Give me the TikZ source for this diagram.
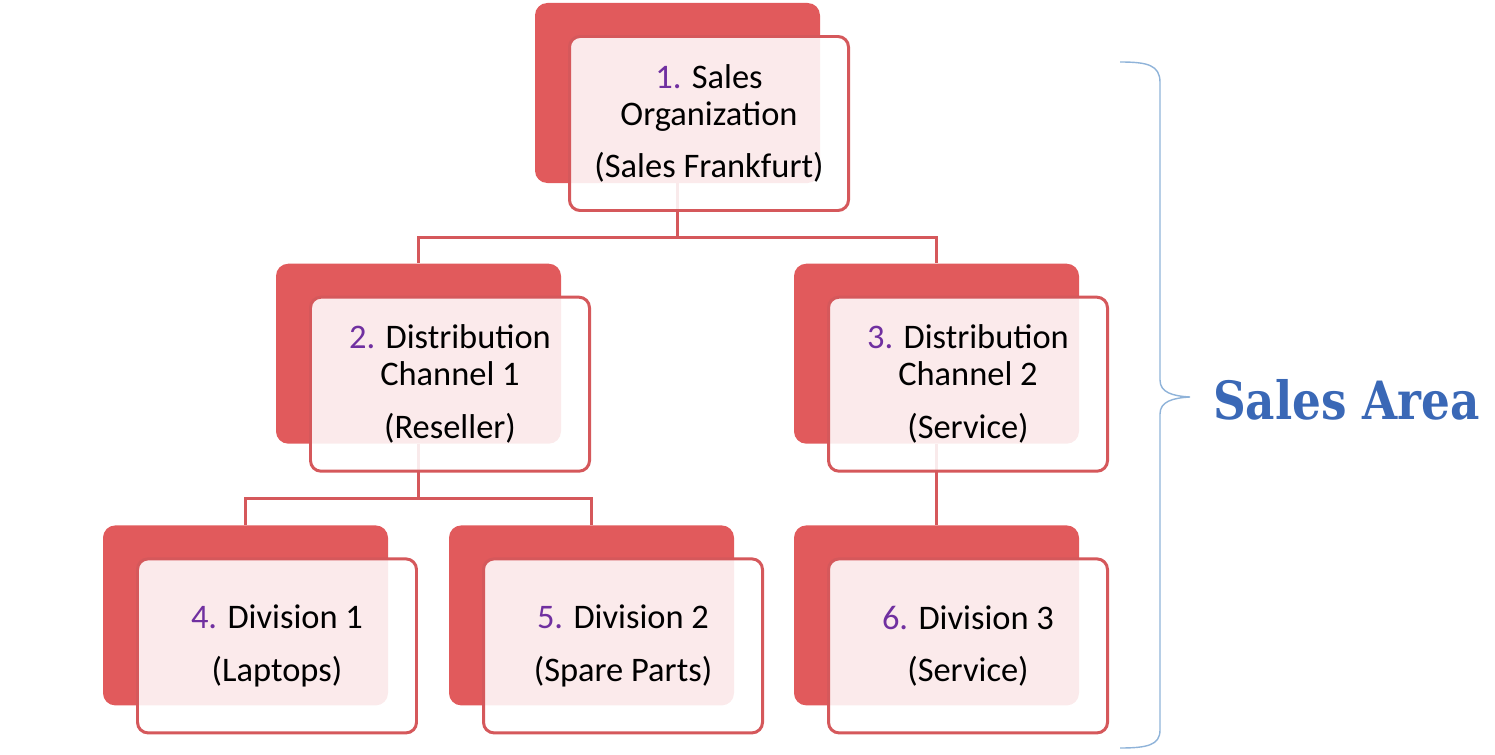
\documentclass[tikz,border=0pt]{standalone}
\usepackage{fontspec}
\setmainfont{Carlito}
\newfontfamily\areafont{DejaVu Serif}
\usepackage{tikz}
\usetikzlibrary{positioning, calc, backgrounds}
\definecolor{sapred}{HTML}{E15A5C}
\definecolor{sapline}{HTML}{D5585B}
\definecolor{sappurple}{HTML}{7030A0}
\definecolor{sapblue}{HTML}{3A68B6}
\definecolor{sapbrace}{HTML}{8FB3D9}
\newcommand{\stepno}[1]{\textcolor{sappurple}{#1.}}

\begin{document}
\begin{tikzpicture}[font=\fontsize{19.6}{21}\selectfont,
  backbox/.style={fill=sapred, rounded corners=7pt, inner sep=0pt,
                  minimum width=5.7cm, minimum height=3.6cm},
  frontbox/.style={draw=sapline, line width=1.7pt, fill=white, fill opacity=0.88,
                   text opacity=1, rounded corners=6pt, inner sep=0pt, align=center,
                   minimum width=5.58cm, minimum height=3.48cm},
  link/.style={draw=sapline, line width=1.7pt}]
  \useasboundingbox (0,0) rectangle (29.9,-15.1);

  % red back plates
  \node[backbox] (orgbg) at (13.55,-1.86) {};
  \node[backbox, below=1.6cm of orgbg, xshift=-5.18cm] (dc1bg) {};
  \node[backbox, below=1.6cm of orgbg, xshift=5.18cm] (dc2bg) {};
  \node[backbox, below=1.62cm of dc1bg, xshift=-3.46cm] (div1bg) {};
  \node[backbox, below=1.62cm of dc1bg, xshift=3.46cm] (div2bg) {};
  \node[backbox, below=1.62cm of dc2bg] (div3bg) {};

  % text boxes
  \node[frontbox] (org) at ($(orgbg.center)+(0.63,-0.61)$)
        {\stepno{1} Sales\\Organization\\[9pt](Sales Frankfurt)};
  \node[frontbox] (dc1) at ($(dc1bg.center)+(0.63,-0.61)$)
        {\stepno{2} Distribution\\Channel 1\\[9pt](Reseller)};
  \node[frontbox] (dc2) at ($(dc2bg.center)+(0.63,-0.61)$)
        {\stepno{3} Distribution\\Channel 2\\[9pt](Service)};
  \node[frontbox] (div1) at ($(div1bg.center)+(0.63,-0.61)$)
        {\stepno{4} Division 1\\[9pt](Laptops)};
  \node[frontbox] (div2) at ($(div2bg.center)+(0.63,-0.61)$)
        {\stepno{5} Division 2\\[9pt](Spare Parts)};
  \node[frontbox] (div3) at ($(div3bg.center)+(0.63,-0.61)$)
        {\stepno{6} Division 3\\[9pt](Service)};

  \begin{scope}[on background layer]
    \coordinate (bus1) at ($(org.south)!0.5!(dc1bg.north)$);
    \coordinate (bus2) at ($(dc1.south)!0.5!(div1bg.north)$);
    \draw[link] (orgbg.south) -- (orgbg.south |- bus1) -| (dc1bg.north);
    \draw[link] (orgbg.south |- bus1) -| (dc2bg.north);
    \draw[link] (dc1bg.south) -- (dc1bg.south |- bus2) -| (div1bg.north);
    \draw[link] (dc1bg.south |- bus2) -| (div2bg.north);
    \draw[link] (dc2bg.south) -- (div3bg.north);
  \end{scope}

  % brace and label
  \coordinate (bracetop) at (22.4,-1.24);
  \coordinate (bracetip) at (23.8,-7.94);
  \coordinate (bracebot) at (22.4,-14.96);
  \draw[sapbrace, line width=0.8pt]
        (bracetop) .. controls (22.95,-1.24) and (23.2,-1.3) .. (23.2,-1.65)
        -- (23.2,-7.6) .. controls (23.2,-7.85) and (23.45,-7.92) .. (bracetip)
        .. controls (23.45,-7.96) and (23.2,-8.03) .. (23.2,-8.28)
        -- (23.2,-14.6) .. controls (23.2,-14.9) and (22.95,-14.96) .. (bracebot);
  \node[text=sapblue, xscale=0.86, font=\areafont\bfseries\fontsize{30}{30}\selectfont]
        (area) at (26.93,-8.0) {Sales Area};
\end{tikzpicture}
\end{document}
